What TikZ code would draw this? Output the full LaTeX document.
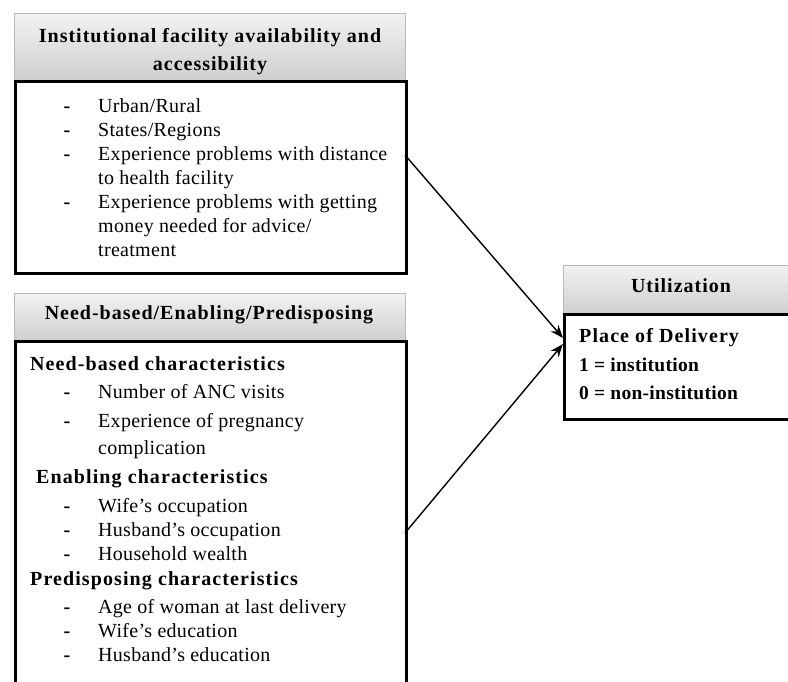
\documentclass[tikz,border=0pt]{standalone}
\usepackage{fontspec}
\setmainfont{Liberation Serif}
\usetikzlibrary{arrows.meta}
\begin{document}
\begin{tikzpicture}[x=1pt,y=-1pt,
 hdr/.style={draw=gray!55, line width=0.8pt, top color=gray!10, bottom color=gray!38, anchor=north west, inner sep=0pt},
 bodybox/.style={draw=black, line width=2.5pt, anchor=north west, inner sep=0pt, fill=white},
 lbl/.style={inner sep=0pt, text height=15pt, text depth=4pt},
 txt/.style={lbl, anchor=west, font=\fontsize{20}{22}\selectfont\addfontfeatures{LetterSpace=1.5}},
 btxt/.style={lbl, anchor=west, font=\fontsize{20}{22}\selectfont\bfseries\addfontfeatures{LetterSpace=5.5}},
 vtxt/.style={lbl, anchor=west, font=\fontsize{19.5}{22}\selectfont\bfseries\addfontfeatures{LetterSpace=1.5}},
 hdrtxt/.style={lbl, anchor=center, font=\fontsize{20}{22}\selectfont\bfseries\addfontfeatures{LetterSpace=5}},
 dsh/.style={lbl, anchor=center, font=\fontsize{20}{22}\selectfont\bfseries},
 arr/.style={-{Stealth[length=13pt,width=10pt]}, line width=1.4pt}]
\useasboundingbox (0,0) rectangle (788,681);
\clip (0,0) rectangle (788,681);
\fill[white] (0,0) rectangle (788,681);

% Box 1
\node[hdr, minimum width=391pt, minimum height=67pt] (h1) at (14,13) {};
\node[bodybox, minimum width=391pt, minimum height=192pt] (b1) at (14,80) {};
\node[hdrtxt] (h1a) at (210,37) {Institutional facility availability and};
\node[hdrtxt] (h1b) at (210,65) {accessibility};
\node[dsh] (d11) at (67,107) {-};
\node[txt] (t11) at (98,107) {Urban/Rural};
\node[dsh] (d12) at (67,131) {-};
\node[txt] (t12) at (98,131) {States/Regions};
\node[dsh] (d13) at (67,155) {-};
\node[txt] (t13) at (98,155) {Experience problems with distance};
\node[txt] (t14) at (98,179) {to health facility};
\node[dsh] (d15) at (67,203) {-};
\node[txt] (t15) at (98,203) {Experience problems with getting};
\node[txt] (t16) at (98,227) {money needed for advice/};
\node[txt] (t17) at (98,251) {treatment};

% Box 2
\node[hdr, minimum width=391pt, minimum height=47pt] (h2) at (14,293) {};
\node[bodybox, minimum width=391pt, minimum height=380pt] (b2) at (14,340) {};
\node[hdrtxt] (h2a) at (209,314) {Need-based/Enabling/Predisposing};
\node[btxt] (s1) at (30,365) {Need-based characteristics};
\node[dsh] (d21) at (67,393) {-};
\node[txt] (t21) at (98,393) {Number of ANC visits};
\node[dsh] (d22) at (67,422) {-};
\node[txt] (t22) at (98,422) {Experience of pregnancy};
\node[txt] (t23) at (98,449) {complication};
\node[btxt] (s2) at (36,478) {Enabling characteristics};
\node[dsh] (d24) at (67,507) {-};
\node[txt] (t24) at (98,507) {Wife’s occupation};
\node[dsh] (d25) at (67,531) {-};
\node[txt] (t25) at (98,531) {Husband’s occupation};
\node[dsh] (d26) at (67,555) {-};
\node[txt] (t26) at (98,555) {Household wealth};
\node[btxt] (s3) at (30,580) {Predisposing characteristics};
\node[dsh] (d27) at (67,608) {-};
\node[txt] (t27) at (98,608) {Age of woman at last delivery};
\node[dsh] (d28) at (67,632) {-};
\node[txt] (t28) at (98,632) {Wife’s education};
\node[dsh] (d29) at (67,656) {-};
\node[txt] (t29) at (98,656) {Husband’s education};

% Box 3
\node[hdr, minimum width=240pt, minimum height=48pt] (h3) at (563,265) {};
\node[bodybox, minimum width=240pt, minimum height=105pt] (b3) at (563,313) {};
\node[hdrtxt] (h3a) at (681,287) {Utilization};
\node[btxt] (u1) at (579,337) {Place of Delivery};
\node[vtxt] (u2) at (579,366) {1 = institution};
\node[vtxt] (u3) at (579,394) {0 = non-institution};

% Arrows
\coordinate (s1a) at (405,155);
\coordinate (s2a) at (405,533);
\coordinate (e1) at (563,338);
\coordinate (e2) at (563,344);
\draw[arr] (s1a) -- (e1);
\draw[arr] (s2a) -- (e2);
\end{tikzpicture}
\end{document}
